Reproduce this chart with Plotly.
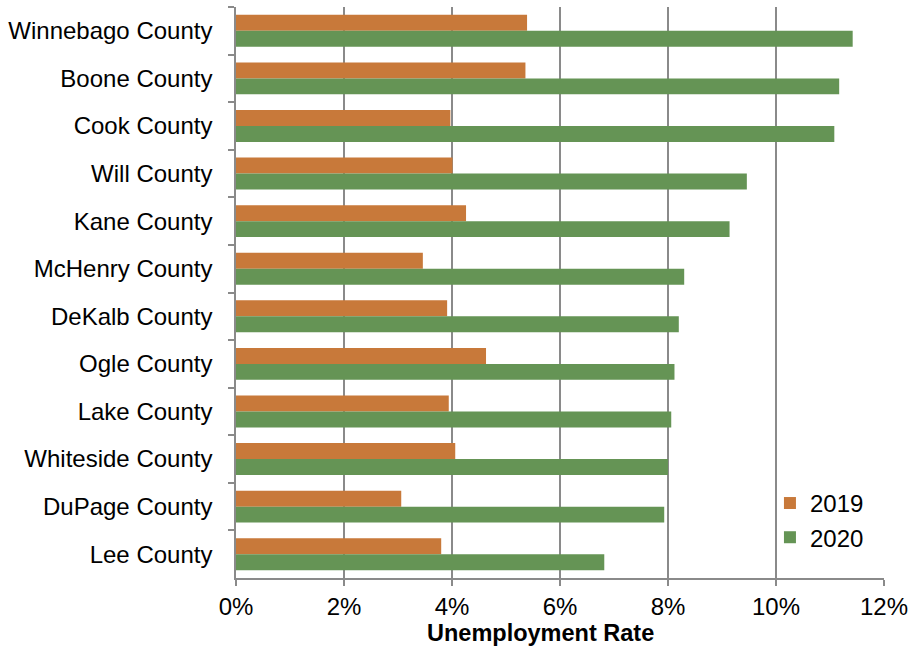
import plotly.graph_objects as go

counties = ["Winnebago County", "Boone County", "Cook County", "Will County", "Kane County",
            "McHenry County", "DeKalb County", "Ogle County", "Lake County", "Whiteside County",
            "DuPage County", "Lee County"]
rate_2019 = [5.39, 5.36, 3.97, 4.01, 4.26, 3.46, 3.91, 4.63, 3.94, 4.06, 3.06, 3.80]
rate_2020 = [11.42, 11.17, 11.08, 9.46, 9.14, 8.30, 8.20, 8.12, 8.06, 8.00, 7.93, 6.82]
x_ticks = [0, 2, 4, 6, 8, 10, 12]
x_tick_labels = ["0%", "2%", "4%", "6%", "8%", "10%", "12%"]

ORANGE = "#C8793A"
GREEN = "#659455"
GRID = "#8a8a8a"
FONT = "Liberation Sans, Arial, sans-serif"

fig = go.Figure()
fig.add_trace(go.Bar(y=counties, x=rate_2019, name="2019", orientation="h",
                     marker=dict(color=ORANGE, line=dict(width=0))))
fig.add_trace(go.Bar(y=counties, x=rate_2020, name="2020", orientation="h",
                     marker=dict(color=GREEN, line=dict(width=0))))

fig.update_layout(
    width=909, height=648,
    margin=dict(l=236, r=25, t=7, b=70, autoexpand=False),
    paper_bgcolor="white", plot_bgcolor="white",
    barmode="group", bargap=0.33, bargroupgap=0,
    font=dict(family=FONT, size=24, color="#000000"),
    showlegend=True,
    legend=dict(x=0.824, y=0.170, xanchor="left", yanchor="top",
                traceorder="normal", bgcolor="rgba(0,0,0,0)",
                font=dict(size=24), itemwidth=30, tracegroupgap=0),
    xaxis=dict(range=[0, 12], tickmode="array", tickvals=x_ticks, ticktext=x_tick_labels,
               automargin=False,
               showgrid=True, gridcolor=GRID, gridwidth=1.5,
               showline=True, linecolor=GRID, linewidth=1.5,
               ticks="outside", ticklen=6, tickcolor=GRID, tickwidth=1.5,
               zeroline=False,
               tickfont=dict(size=24)),
    yaxis=dict(autorange="reversed", showgrid=False, automargin=False,
               showline=True, linecolor=GRID, linewidth=1.5,
               ticks="outside", ticklen=6, tickcolor=GRID, tickwidth=1.5,
               tickson="boundaries", ticklabelstandoff=17,
               tickfont=dict(size=24)),
    annotations=[dict(text="<b>Unemployment Rate</b>", xref="paper", yref="paper",
                      x=0.47, y=-0.096, xanchor="center", yanchor="middle",
                      showarrow=False, font=dict(size=23.5))],
)

fig.write_html("out.html")
